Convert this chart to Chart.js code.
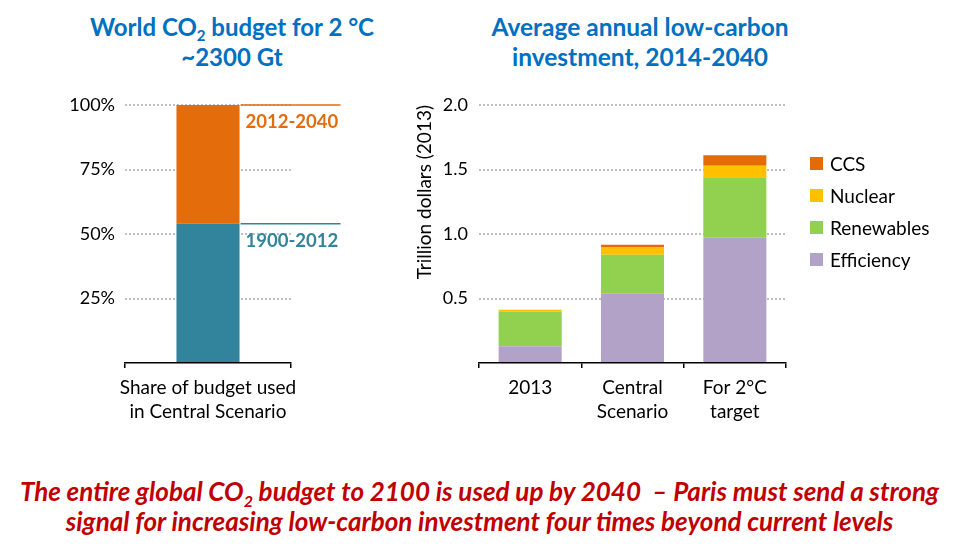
<!DOCTYPE html>
<html>
<head>
<meta charset="utf-8">
<script src="https://cdn.jsdelivr.net/npm/chart.js@4/dist/chart.umd.min.js"></script>
<style>
  html,body{margin:0;padding:0;background:#fff;}
  body{width:959px;height:552px;position:relative;overflow:hidden;font-family:Lato,"Noto Sans",sans-serif;}
  canvas{position:absolute;top:0;}
  .title{position:absolute;color:#0070C0;font-weight:bold;font-size:24px;text-align:center;line-height:30px;white-space:nowrap;}
  .title sub{font-size:15px;vertical-align:-5px;line-height:0;}
  #t2{font-size:24.5px;}
  .legend{position:absolute;left:810px;top:0;font-size:19px;color:#000;}
  .legend .row{position:absolute;left:0;height:22px;display:flex;align-items:center;white-space:nowrap;}
  .legend .sw{width:13px;height:13px;margin-right:7px;flex:none;}
  .msg{position:absolute;left:0;width:959px;text-align:center;color:#C00000;font-weight:bold;font-style:italic;font-size:26px;white-space:nowrap;line-height:30px;}
  .msg sub{font-size:16px;vertical-align:-6px;line-height:0;}
</style>
</head>
<body>
<div class="title" id="t1" style="left:72px;width:320px;top:12px;">World CO<sub>2</sub> budget for 2 °C<br>~2300 Gt</div>
<div class="title" id="t2" style="left:470px;width:340px;top:12px;">Average annual low-carbon<br>investment, 2014-2040</div>
<canvas id="c1" width="400" height="440" style="left:0;"></canvas>
<canvas id="c2" width="559" height="440" style="left:400px;"></canvas>
<div class="legend" id="legend"></div>
<div class="msg" style="top:476px;">The entire global CO<sub>2</sub> budget to 2100 is used up by 2040 &nbsp;– Paris must send a strong</div>
<div class="msg" style="top:506px;">signal for increasing low-carbon investment four times beyond current levels</div>
<script>
// ---- data ----
const budgetCategories = [['Share of budget used', 'in Central Scenario']];
const budgetSeriesNames = ['1900-2012', '2012-2040'];
const budgetHistoric = [54];   // % of budget, 1900-2012
const budgetFuture = [46];     // % of budget, 2012-2040

const investCategories = [['2013'], ['Central', 'Scenario'], ['For 2°C', 'target']];
const investSeriesNames = ['Efficiency', 'Renewables', 'Nuclear', 'CCS'];
const efficiency = [0.13, 0.54, 0.97];
const renewables = [0.27, 0.30, 0.47];
const nuclear = [0.012, 0.06, 0.09];
const ccs = [0, 0.016, 0.08];

// ---- styles ----
const FONT = 'Lato, "Noto Sans", sans-serif';
const budgetColors = ['#31849B', '#E46C0A'];
const investColors = ['#B3A2C7', '#92D050', '#FFC000', '#E36C09'];
const gridColor = '#BFBFBF';

function yGrid() {
  return {
    drawTicks: false,
    color: (c) => (c.tick && c.tick.value === 0 ? 'rgba(0,0,0,0)' : gridColor),
    lineWidth: 2
  };
}
function xScale() {
  return {
    stacked: true,
    grid: { drawOnChartArea: false, drawTicks: true, tickLength: 5, color: '#000', lineWidth: 1.5, offset: true },
    border: { display: true, color: '#000', width: 1.5 },
    ticks: { color: '#000', font: { family: FONT, size: 19, lineHeight: 1.27 }, maxRotation: 0, minRotation: 0, autoSkip: false, padding: 8 },
    afterFit: (s) => { s.height = 77; }
  };
}

// annotation plugin for left chart
const segLabels = {
  id: 'segLabels',
  afterDatasetsDraw(chart) {
    const ctx = chart.ctx;
    ctx.save();
    chart.data.datasets.forEach((ds, i) => {
      const bar = chart.getDatasetMeta(i).data[0];
      const xr = bar.x + bar.width / 2 + 1;
      const y = bar.y;
      ctx.strokeStyle = ds.backgroundColor;
      ctx.lineWidth = 1.5;
      ctx.beginPath();
      ctx.moveTo(xr, y);
      ctx.lineTo(xr + 100, y);
      ctx.stroke();
      ctx.fillStyle = ds.backgroundColor;
      ctx.font = 'bold 18.5px ' + FONT;
      ctx.textBaseline = 'middle';
      ctx.textAlign = 'left';
      ctx.fillText(ds.label, xr + 5, y + 17);
    });
    ctx.restore();
  }
};

new Chart(document.getElementById('c1'), {
  type: 'bar',
  data: {
    labels: budgetCategories,
    datasets: [
      { label: budgetSeriesNames[0], data: budgetHistoric, backgroundColor: budgetColors[0] },
      { label: budgetSeriesNames[1], data: budgetFuture, backgroundColor: budgetColors[1] }
    ]
  },
  options: {
    responsive: false,
    animation: false,
    layout: { padding: { top: 105, left: 0, right: 109, bottom: 0 } },
    datasets: { bar: { barPercentage: 0.38, categoryPercentage: 1 } },
    plugins: { legend: { display: false }, tooltip: { enabled: false } },
    scales: {
      x: xScale(),
      y: {
        stacked: true, min: 0, max: 100,
        border: { display: false, dash: [2, 2] },
        grid: yGrid(),
        ticks: { stepSize: 25, color: '#000', padding: 10, font: { family: FONT, size: 18 },
                 callback: (v) => (v === 0 ? '' : v + '%') },
        afterFit: (s) => { s.width = 125; }
      }
    }
  },
  plugins: [segLabels]
});

const investData = [efficiency, renewables, nuclear, ccs];
new Chart(document.getElementById('c2'), {
  type: 'bar',
  data: {
    labels: investCategories,
    datasets: investSeriesNames.map((n, i) => ({ label: n, data: investData[i], backgroundColor: investColors[i] }))
  },
  options: {
    responsive: false,
    animation: false,
    layout: { padding: { top: 105, left: 9, right: 173, bottom: 0 } },
    datasets: { bar: { barPercentage: 0.616, categoryPercentage: 1 } },
    plugins: { legend: { display: false }, tooltip: { enabled: false } },
    scales: {
      x: xScale(),
      y: {
        stacked: true, min: 0, max: 2,
        border: { display: false, dash: [2, 2] },
        grid: yGrid(),
        title: { display: true, text: 'Trillion dollars (2013)', align: 'end', color: '#000', font: { family: FONT, size: 19 } },
        ticks: { stepSize: 0.5, color: '#000', padding: 11, font: { family: FONT, size: 18 },
                 callback: (v) => (v === 0 ? '' : v.toFixed(1)) },
        afterFit: (s) => { s.width = 70; }
      }
    }
  }
});

// legend (top to bottom: CCS, Nuclear, Renewables, Efficiency)
const legendEl = document.getElementById('legend');
const rowCenters = [163, 195, 227, 259];
investSeriesNames.slice().reverse().forEach((n, k) => {
  const idx = investSeriesNames.length - 1 - k;
  const row = document.createElement('div');
  row.className = 'row';
  row.style.top = (rowCenters[k] - 11) + 'px';
  row.innerHTML = '<span class="sw" style="background:' + investColors[idx] + '"></span><span>' + n + '</span>';
  legendEl.appendChild(row);
});
</script>
</body>
</html>
